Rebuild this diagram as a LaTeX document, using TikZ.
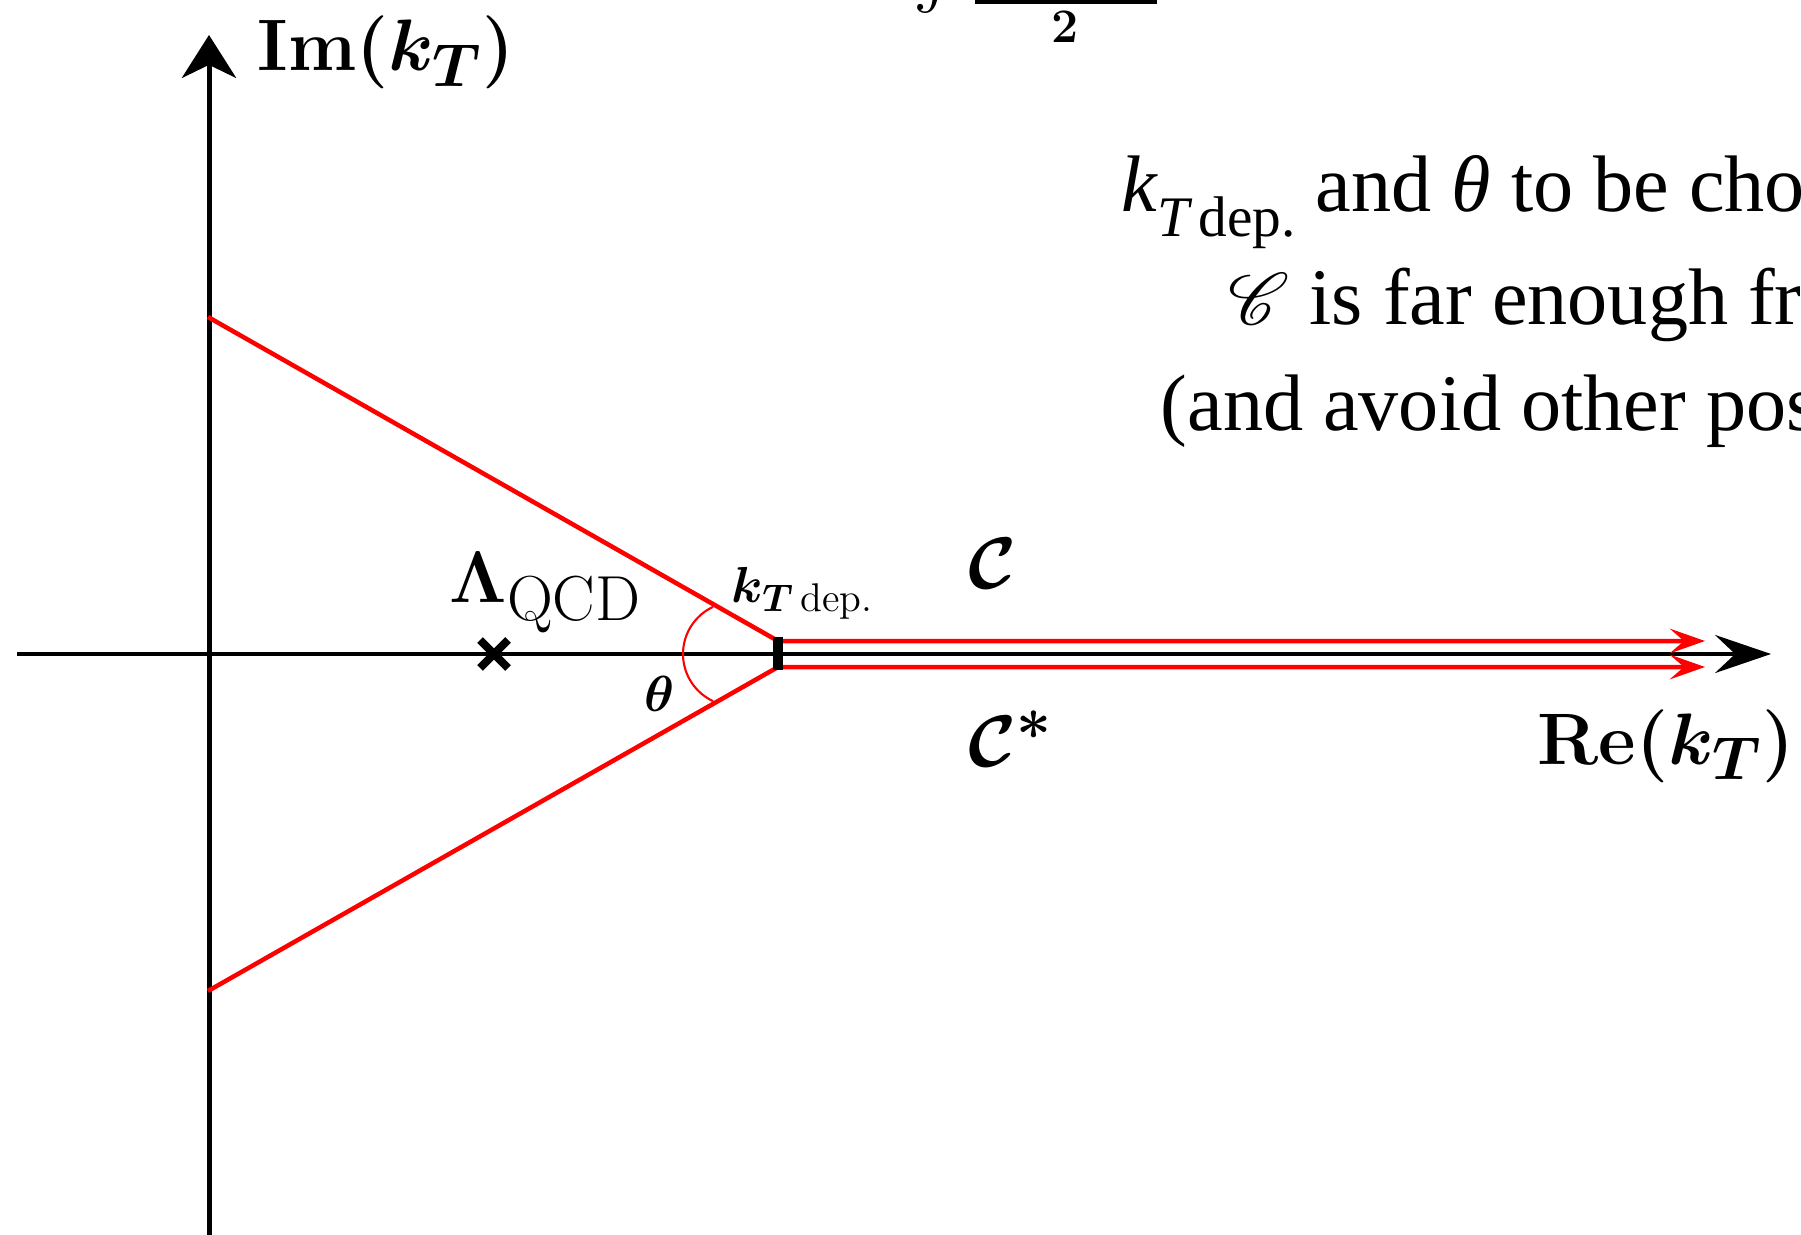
\documentclass[tikz,border=0pt]{standalone}
\usepackage{amsmath}
\usepackage[no-math]{fontspec}
\usepackage{mathrsfs}
\usetikzlibrary{arrows.meta}
\newfontfamily\tnr{Liberation Serif}
\DeclareMathSizes{22.6}{22.6}{18.1}{14.5}
\DeclareMathSizes{14.2}{14.2}{11.4}{9}
\tikzset{
  axis/.style={line width=1.42pt, black},
  contour/.style={line width=1.28pt, red, line join=miter},
  anglearc/.style={line width=0.6pt, red},
  lbl/.style={inner sep=0pt, anchor=base west, font=\fontsize{22.6}{26}\selectfont\boldmath},
  smalllbl/.style={inner sep=0pt, anchor=base west, font=\fontsize{14.2}{17}\selectfont\boldmath},
  tnrtext/.style={inner sep=0pt, anchor=base west, font=\fontsize{22.8}{27}\selectfont\tnr},
}
\begin{document}
\begin{tikzpicture}[x=0.01cm,y=-0.01cm]
\useasboundingbox (0,0) rectangle (1801,1234);
% key points
\coordinate (xL) at (17,654);
\coordinate (xR) at (1771,654);
\coordinate (yB) at (209,1260);
\coordinate (yT) at (209,35);
\coordinate (A) at (208,317);
\coordinate (B) at (208,991);
\coordinate (Vu) at (778,641);
\coordinate (Vl) at (778,667);
\coordinate (Eu) at (1705,641);
\coordinate (El) at (1705,667);
\coordinate (bt) at (778,637);
\coordinate (bb) at (778,670);
\coordinate (X) at (494,654);
\coordinate (fb1) at (975,-3);
\coordinate (fb2) at (1157,4);
% axes
\draw[axis, -{Stealth[length=15.9pt,width=10.8pt,inset=5.7pt]}] (xL) -- (xR);
\draw[axis, -{Stealth[length=12.2pt,width=15.4pt,inset=3.7pt]}] (yB) -- (yT);
% contours
\draw[contour, -{Stealth[length=10pt,width=7pt,inset=4pt]}] (A) -- (Vu) -- (Eu);
\draw[contour, -{Stealth[length=10pt,width=7pt,inset=4pt]}] (B) -- (Vl) -- (El);
% angle arc
\draw[anglearc] plot[domain=115:245, samples=50] ({735+52*cos(\x)},{654-52*sin(\x)});
% cross
\draw[line width=2.3pt] (X) +(-14,-14) -- +(14,14);
\draw[line width=2.3pt] (X) +(-14,14) -- +(14,-14);
% bar at branch point
\draw[line width=2.85pt] (bt) -- (bb);
% labels
\node[lbl] (im) at (257,71) {$\mathrm{Im}(k_T)$};
\node[lbl] (re) at (1537,764) {$\mathrm{Re}(k_T)$};
\node[lbl] (lam) at (449,602) {$\Lambda_{\text{QCD}}$};
\node[smalllbl] (kdep) at (731,602) {$k_{T\,\text{dep.}}$};
\node[smalllbl] (th) at (644,711) {$\theta$};
\node[lbl] (C) at (968,588) {$\mathcal{C}$};
\node[lbl] (Cs) at (968,766) {$\mathcal{C}^*$};
% text block (cut off at the right)
\node[tnrtext] (t1) at (1121,212) {{\itshape k}\raisebox{-0.3em}{\fontsize{16.3}{19}\selectfont{\itshape T}\,dep.} and {\itshape θ} to be cho};
\node[tnrtext] (t2) at (1228,325) {$\mathscr{C}$ is far enough fr};
\node[tnrtext] (t3) at (1160,431) {(and avoid other pos};
% cut-off formula at top
\node[inner sep=0pt, anchor=south west, font=\fontsize{22}{26}\selectfont] (int) at (913,14) {$\int$};
\fill (fb1) rectangle (fb2);
\node[inner sep=0pt, anchor=base west, font=\fontsize{13.7}{16}\selectfont\bfseries] (two) at (1051,43) {2};
\end{tikzpicture}
\end{document}
